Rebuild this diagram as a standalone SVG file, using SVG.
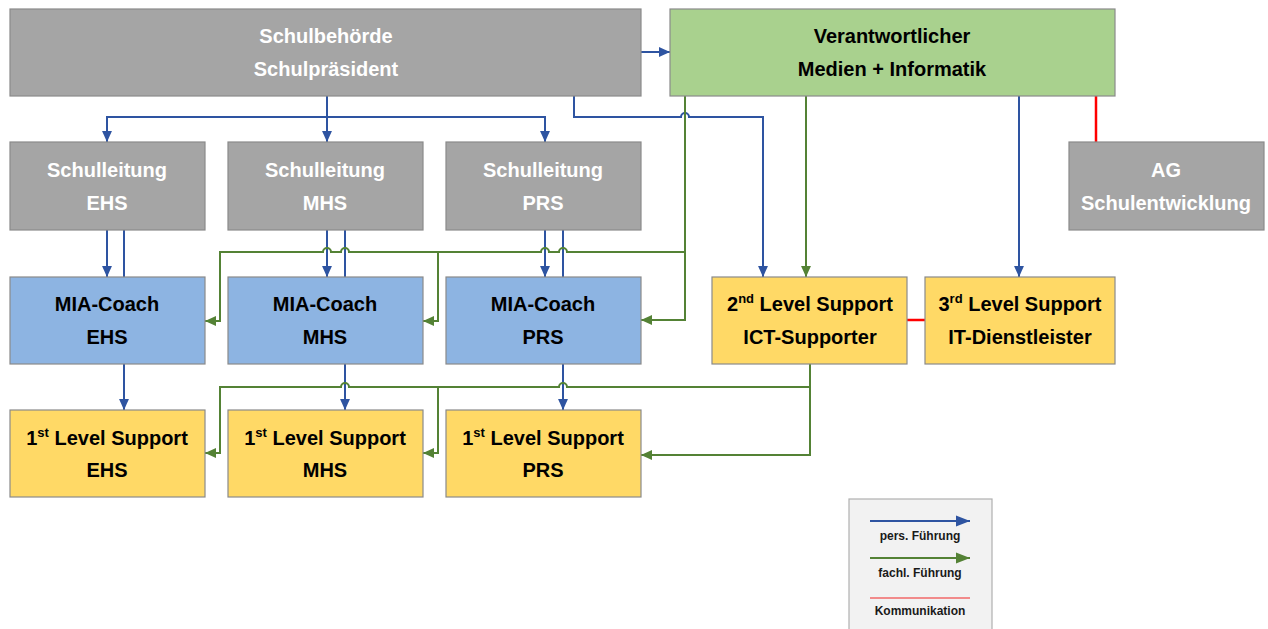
<svg xmlns="http://www.w3.org/2000/svg" width="1268" height="629" viewBox="0 0 1268 629">
<style>
.box{stroke:#8a8a8a;stroke-width:1.2}
.gray{fill:#a5a5a5}
.grn{fill:#a9d18e}
.blu{fill:#8db4e2}
.yel{fill:#ffd966}
.t{font-family:"Liberation Sans",Arial,sans-serif;font-weight:bold;font-size:20px;text-anchor:middle}
.tw{fill:#ffffff}
.tb{fill:#000000}
.sup{font-size:13px}
.cb{fill:none;stroke:#2e54a1;stroke-width:2}
.cg{fill:none;stroke:#548235;stroke-width:2}
.cr{fill:none;stroke:#ff0000;stroke-width:2.5}
.lg{font-family:"Liberation Sans",Arial,sans-serif;font-weight:bold;font-size:12px;text-anchor:middle;fill:#1a1a1a}
</style>
<defs>
<marker id="ab" viewBox="0 0 10 10" refX="10" refY="5" markerWidth="11" markerHeight="11" markerUnits="userSpaceOnUse" orient="auto"><path d="M0,0.5 L10,5 L0,9.5 z" fill="#2e54a1"/></marker>
<marker id="ag" viewBox="0 0 10 10" refX="10" refY="5" markerWidth="11" markerHeight="11" markerUnits="userSpaceOnUse" orient="auto"><path d="M0,0.5 L10,5 L0,9.5 z" fill="#548235"/></marker>
<marker id="abL" viewBox="0 0 10 10" refX="10" refY="5" markerWidth="14" markerHeight="14" markerUnits="userSpaceOnUse" orient="auto"><path d="M0,1 L10,5 L0,9 z" fill="#2e54a1"/></marker>
<marker id="agL" viewBox="0 0 10 10" refX="10" refY="5" markerWidth="14" markerHeight="14" markerUnits="userSpaceOnUse" orient="auto"><path d="M0,1 L10,5 L0,9 z" fill="#548235"/></marker>
</defs>

<g id="connectors">
<path class="cb" d="M641,52 H670" marker-end="url(#ab)"/>
<path class="cb" d="M327,96 V142" marker-end="url(#ab)"/>
<path class="cb" d="M107,142 V117 H545 V142" marker-end="url(#ab)"/>
<path class="cb" d="M107,117 V142" marker-end="url(#ab)"/>
<path class="cb" d="M574,96 V117 H681 a4,4 0 0 1 8,0 H763 V277" marker-end="url(#ab)"/>
<path class="cb" d="M1019,96 V277" marker-end="url(#ab)"/>
<path class="cb" d="M107,230 V277" marker-end="url(#ab)"/>
<path class="cb" d="M124,230 V277"/>
<path class="cb" d="M327,230 V277" marker-end="url(#ab)"/>
<path class="cb" d="M345,230 V277"/>
<path class="cb" d="M545,230 V277" marker-end="url(#ab)"/>
<path class="cb" d="M563,230 V277"/>
<path class="cb" d="M124,364 V410" marker-end="url(#ab)"/>
<path class="cb" d="M345,364 V410" marker-end="url(#ab)"/>
<path class="cb" d="M563,364 V410" marker-end="url(#ab)"/>
<path class="cg" d="M806,96 V277" marker-end="url(#ag)"/>
<path class="cg" d="M685,96 V320 H641" marker-end="url(#ag)"/>
<path class="cg" d="M685,252 H567 a4,4 0 0 0 -8,0 H549 a4,4 0 0 0 -8,0 H349 a4,4 0 0 0 -8,0 H331 a4,4 0 0 0 -8,0 H220 V321 H205" marker-end="url(#ag)"/>
<path class="cg" d="M438,252 V321 H423" marker-end="url(#ag)"/>
<path class="cg" d="M810,364 V455 H641" marker-end="url(#ag)"/>
<path class="cg" d="M810,387 H567 a4,4 0 0 0 -8,0 H349 a4,4 0 0 0 -8,0 H220 V453 H205" marker-end="url(#ag)"/>
<path class="cg" d="M438,387 V453 H423" marker-end="url(#ag)"/>
<path class="cr" d="M1096,96 V142"/>
<path class="cr" d="M907,320 H925"/>
</g>

<g id="n-schulbehoerde">
<rect class="box gray" x="10" y="9" width="631" height="87"/>
<text class="t tw" x="326" y="43">Schulbehörde</text>
<text class="t tw" x="326" y="76">Schulpräsident</text>
</g>
<g id="n-verantwortlicher">
<rect class="box grn" x="670" y="9" width="445" height="87"/>
<text class="t tb" x="892" y="43">Verantwortlicher</text>
<text class="t tb" x="892" y="76">Medien + Informatik</text>
</g>
<g id="n-sl-ehs">
<rect class="box gray" x="10" y="142" width="195" height="88"/>
<text class="t tw" x="107" y="177">Schulleitung</text>
<text class="t tw" x="107" y="210">EHS</text>
</g>
<g id="n-sl-mhs">
<rect class="box gray" x="228" y="142" width="195" height="88"/>
<text class="t tw" x="325" y="177">Schulleitung</text>
<text class="t tw" x="325" y="210">MHS</text>
</g>
<g id="n-sl-prs">
<rect class="box gray" x="446" y="142" width="195" height="88"/>
<text class="t tw" x="543" y="177">Schulleitung</text>
<text class="t tw" x="543" y="210">PRS</text>
</g>
<g id="n-ag">
<rect class="box gray" x="1069" y="142" width="195" height="88"/>
<text class="t tw" x="1166" y="177">AG</text>
<text class="t tw" x="1166" y="210">Schulentwicklung</text>
</g>
<g id="n-mia-ehs">
<rect class="box blu" x="10" y="277" width="195" height="87"/>
<text class="t tb" x="107" y="311">MIA-Coach</text>
<text class="t tb" x="107" y="344">EHS</text>
</g>
<g id="n-mia-mhs">
<rect class="box blu" x="228" y="277" width="195" height="87"/>
<text class="t tb" x="325" y="311">MIA-Coach</text>
<text class="t tb" x="325" y="344">MHS</text>
</g>
<g id="n-mia-prs">
<rect class="box blu" x="446" y="277" width="195" height="87"/>
<text class="t tb" x="543" y="311">MIA-Coach</text>
<text class="t tb" x="543" y="344">PRS</text>
</g>
<g id="n-2nd">
<rect class="box yel" x="712" y="277" width="195" height="87"/>
<text class="t tb" x="810" y="311">2<tspan class="sup" dy="-8">nd</tspan><tspan dy="8"> Level Support</tspan></text>
<text class="t tb" x="810" y="344">ICT-Supporter</text>
</g>
<g id="n-3rd">
<rect class="box yel" x="925" y="277" width="190" height="87"/>
<text class="t tb" x="1020" y="311">3<tspan class="sup" dy="-8">rd</tspan><tspan dy="8"> Level Support</tspan></text>
<text class="t tb" x="1020" y="344">IT-Dienstleister</text>
</g>
<g id="n-1st-ehs">
<rect class="box yel" x="10" y="410" width="195" height="87"/>
<text class="t tb" x="107" y="445">1<tspan class="sup" dy="-8">st</tspan><tspan dy="8"> Level Support</tspan></text>
<text class="t tb" x="107" y="477">EHS</text>
</g>
<g id="n-1st-mhs">
<rect class="box yel" x="228" y="410" width="195" height="87"/>
<text class="t tb" x="325" y="445">1<tspan class="sup" dy="-8">st</tspan><tspan dy="8"> Level Support</tspan></text>
<text class="t tb" x="325" y="477">MHS</text>
</g>
<g id="n-1st-prs">
<rect class="box yel" x="446" y="410" width="195" height="87"/>
<text class="t tb" x="543" y="445">1<tspan class="sup" dy="-8">st</tspan><tspan dy="8"> Level Support</tspan></text>
<text class="t tb" x="543" y="477">PRS</text>
</g>

<g id="legend">
<rect x="849" y="499" width="143" height="135" fill="#f2f2f2" stroke="#b0b0b0" stroke-width="1.2"/>
<path class="cb" d="M870,521 H970" marker-end="url(#abL)" stroke-width="1.6"/>
<text class="lg" x="920" y="540">pers. Führung</text>
<path class="cg" d="M870,558 H970" marker-end="url(#agL)" stroke-width="1.6"/>
<text class="lg" x="920" y="577">fachl. Führung</text>
<path d="M870,598 H970" stroke="#f28b8b" stroke-width="2" fill="none"/>
<text class="lg" x="920" y="615">Kommunikation</text>
</g>
</svg>
